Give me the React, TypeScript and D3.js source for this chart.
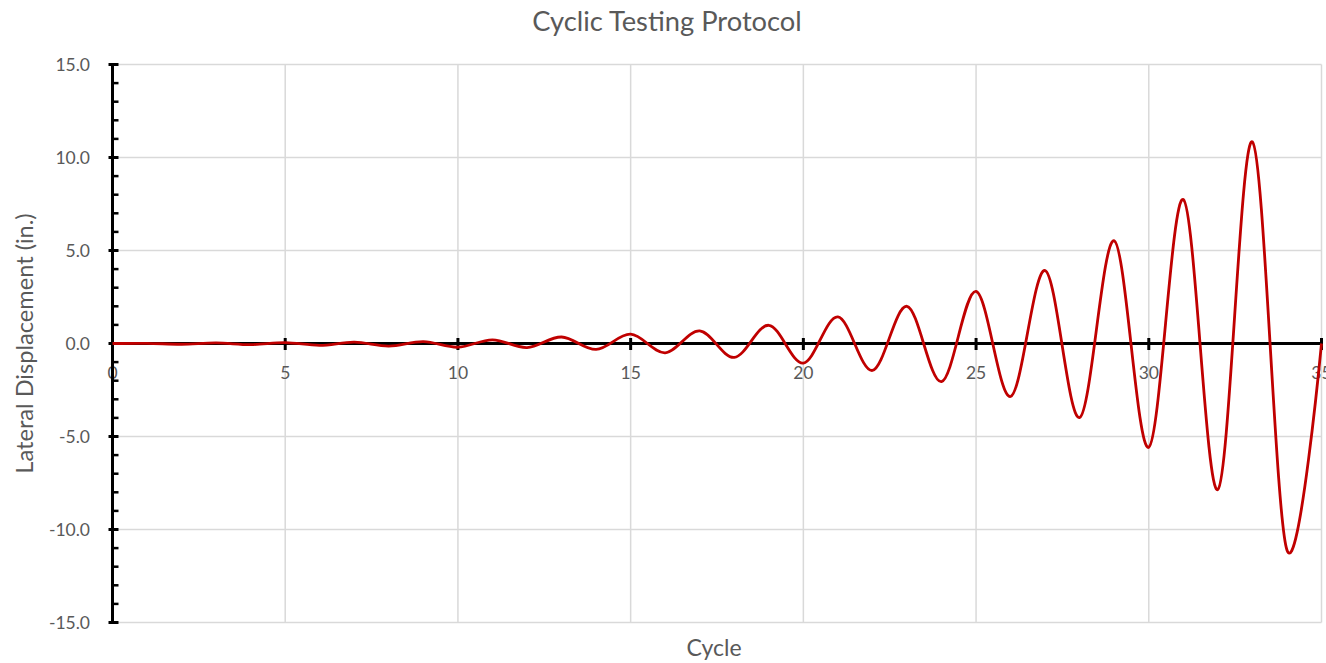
import React from 'react';
import * as d3 from 'd3';

const cycles = [0, 1, 2, 3, 4, 5, 6, 7, 8, 9, 10, 11, 12, 13, 14, 15, 16, 17, 18, 19, 20, 21, 22, 23, 24, 25, 26, 27, 28, 29, 30, 31, 32, 33, 34, 35];
const displacement = [
  0, 0.01, -0.04, 0.03, -0.06, 0.05, -0.1, 0.07, -0.14, 0.1,
  -0.2, 0.2, -0.22, 0.35, -0.32, 0.5, -0.5, 0.68, -0.75, 0.98,
  -1.05, 1.43, -1.45, 2.0, -2.05, 2.8, -2.85, 3.92, -3.98, 5.52,
  -5.58, 7.74, -7.85, 10.84, -11.1, 0,
];
const xTickValues = [0, 5, 10, 15, 20, 25, 30, 35];
const yTickValues = [-15, -10, -5, 0, 5, 10, 15];
const titleText = 'Cyclic Testing Protocol';
const xTitleText = 'Cycle';
const yTitleText = 'Lateral Displacement (in.)';

const FONT = "Lato, 'Open Sans', sans-serif";
const TEXT_COLOR = '#595959';
const GRID_COLOR = '#d9d9d9';
const LINE_COLOR = '#c00000';

export default function App() {
  const W = 1326;
  const H = 663;
  const left = 112.5;
  const right = 1321.5;
  const top = 64.5;
  const bottom = 622.5;

  const x = d3.scaleLinear().domain([0, 35]).range([left, right]);
  const y = d3.scaleLinear().domain([-15, 15]).range([bottom, top]);

  const line = d3
    .line<number>()
    .x((_d, i) => x(cycles[i]))
    .y((d) => y(d))
    .curve(d3.curveCatmullRom.alpha(0));

  const minorTicks = y.ticks(30).filter((v) => Math.abs(v % 5) > 1e-9);
  const fmtY = (v: number) => d3.format('.1f')(v).replace('\u2212', '-');

  return (
    <svg
      width={W}
      height={H}
      style={{ position: 'absolute', left: 0, top: 0, overflow: 'hidden', background: '#fff' }}
      fontFamily={FONT}
    >
      <rect x={0} y={0} width={W} height={H} fill="#fff" />
      {/* gridlines */}
      <g stroke={GRID_COLOR} strokeWidth={1.5}>
        {xTickValues.map((v) => (
          <line key={'gx' + v} x1={x(v)} x2={x(v)} y1={top} y2={bottom} />
        ))}
        {yTickValues.map((v) => (
          <line key={'gy' + v} x1={left} x2={right} y1={y(v)} y2={y(v)} />
        ))}
      </g>

      {/* title */}
      <text x={667} y={31} textAnchor="middle" fontSize={27.3} fill={TEXT_COLOR}>
        {titleText}
      </text>

      {/* y tick labels */}
      <g fontSize={17.5} fill={TEXT_COLOR} textAnchor="end">
        {yTickValues.map((v) => (
          <text key={'ly' + v} x={90} y={y(v)} dy="0.36em">
            {fmtY(v)}
          </text>
        ))}
      </g>

      {/* x tick labels */}
      <g fontSize={17.5} fill={TEXT_COLOR} textAnchor="middle">
        {xTickValues.map((v) => (
          <text key={'lx' + v} x={x(v)} y={378.5}>
            {v}
          </text>
        ))}
      </g>

      {/* axis titles */}
      <text x={714} y={656} textAnchor="middle" fontSize={23} fill={TEXT_COLOR}>
        {xTitleText}
      </text>
      <text
        transform={`translate(33, ${(top + bottom) / 2}) rotate(-90)`}
        textAnchor="middle"
        fontSize={23.6}
        fill={TEXT_COLOR}
      >
        {yTitleText}
      </text>

      {/* y axis */}
      <g stroke="#000">
        <line x1={left} x2={left} y1={top} y2={bottom} strokeWidth={3} />
        {yTickValues.map((v) => (
          <line key={'ty' + v} x1={left - 4} x2={left + 6} y1={y(v)} y2={y(v)} strokeWidth={3} />
        ))}
        {minorTicks.map((v) => (
          <line key={'tm' + v} x1={left} x2={left + 6} y1={y(v)} y2={y(v)} strokeWidth={2.5} />
        ))}
      </g>

      {/* x axis at y = 0 */}
      <g stroke="#000">
        <line x1={left} x2={right} y1={y(0)} y2={y(0)} strokeWidth={3} />
        {xTickValues.map((v) => (
          <line key={'tx' + v} x1={x(v)} x2={x(v)} y1={y(0) - 5.5} y2={y(0) + 6.5} strokeWidth={3} />
        ))}
      </g>

      {/* series */}
      <path d={line(displacement) || ''} fill="none" stroke={LINE_COLOR} strokeWidth={2.8} strokeLinejoin="round" />
    </svg>
  );
}
